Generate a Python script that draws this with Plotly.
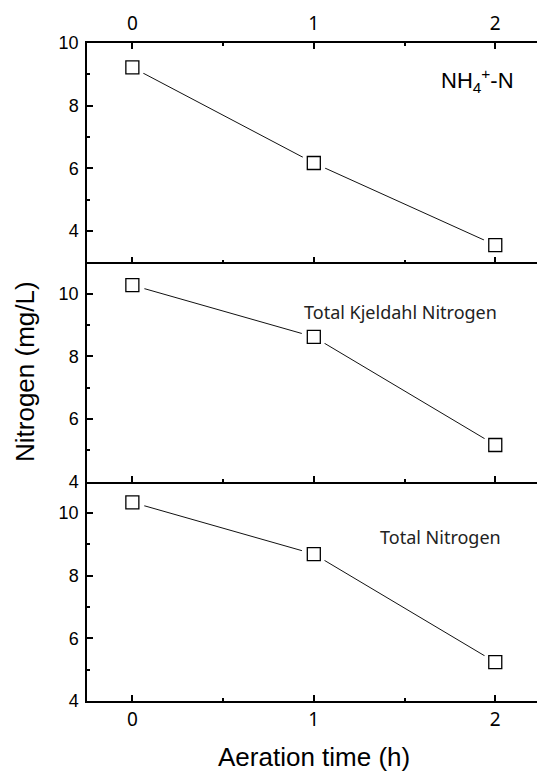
import plotly.graph_objects as go

# ---- data ----
aeration_time = [0, 1, 2]
nh4_n = [9.22, 6.17, 3.55]
tkn = [10.27, 8.62, 5.17]
total_n = [10.34, 8.69, 5.24]
x_tick_labels = ["0", "1", "2"]
panel_labels = ["NH<sub>4</sub><sup>+</sup>-N", "Total Kjeldahl Nitrogen", "Total Nitrogen"]
y_title = "Nitrogen (mg/L)"
x_title = "Aeration time (h)"

W, H = 537, 771
ML, MR, MT, MB = 87, 0, 43, 70

fig = go.Figure()
series = [nh4_n, tkn, total_n]
axes = [("x", "y"), ("x2", "y2"), ("x3", "y3")]
for vals, (xa, ya) in zip(series, axes):
    fig.add_trace(go.Scatter(x=aeration_time, y=vals, mode="lines",
                             line=dict(color="#111", width=1),
                             xaxis=xa, yaxis=ya, hoverinfo="skip", showlegend=False))
    # white halo creates the gap between line and marker
    fig.add_trace(go.Scatter(x=aeration_time, y=vals, mode="markers",
                             marker=dict(symbol="circle", size=25, color="white",
                                         line=dict(width=0)),
                             xaxis=xa, yaxis=ya, hoverinfo="skip", showlegend=False))
    fig.add_trace(go.Scatter(x=aeration_time, y=vals, mode="markers",
                             marker=dict(symbol="square", size=13, color="white",
                                         line=dict(width=1.3, color="black")),
                             xaxis=xa, yaxis=ya, showlegend=False))

xfont = dict(family="Noto Sans", size=19, color="black")
yfont = dict(family="Liberation Sans, Arial", size=18, color="black")

xcommon = dict(range=[-0.25, 2.23], tickvals=aeration_time, ticktext=x_tick_labels,
               ticks="inside", ticklen=6, tickwidth=1.5, tickcolor="black",
               showline=True, linewidth=1.5, linecolor="black",
               showgrid=False, zeroline=False, tickfont=xfont,
               minor=dict(ticks="inside", ticklen=3, tickwidth=1.5, tickcolor="black",
                          tickvals=[0.5, 1.5], showgrid=False))
ycommon = dict(ticks="inside", ticklen=6, tickwidth=1.5, tickcolor="black",
               showline=True, linewidth=1.5, linecolor="black",
               showgrid=False, zeroline=False, tickfont=yfont, ticklabelstandoff=3,
               tickvals=[4, 6, 8, 10], ticktext=["4", "6", "8", "10"],
               minor=dict(ticks="inside", ticklen=3, tickwidth=1.5, tickcolor="black",
                          tickvals=[5, 7, 9], showgrid=False))

fig.update_layout(
    width=W, height=H,
    margin=dict(l=ML, r=MR, t=MT, b=MB),
    paper_bgcolor="white", plot_bgcolor="white",
    xaxis=dict(xcommon, anchor="y", side="top", mirror="ticks", ticklabelstandoff=4),
    xaxis2=dict(xcommon, anchor="y2", side="bottom", showticklabels=False, matches="x"),
    xaxis3=dict(xcommon, anchor="y3", side="bottom", matches="x"),
    yaxis=dict(ycommon, domain=[2/3, 1], range=[3, 10], anchor="x"),
    yaxis2=dict(ycommon, domain=[1/3, 2/3], range=[4, 11], anchor="x2"),
    yaxis3=dict(ycommon, domain=[0, 1/3], range=[4, 11], anchor="x3"),
)

annos = [
    dict(text=panel_labels[0], x=1.90, y=8.79, xref="x", yref="y",
         font=dict(family="Liberation Sans, Arial", size=22, color="black")),
    dict(text=panel_labels[1], x=1.48, y=9.43, xref="x2", yref="y2",
         font=dict(family="Noto Sans", size=18, color="#222")),
    dict(text=panel_labels[2], x=1.70, y=9.23, xref="x3", yref="y3",
         font=dict(family="Noto Sans", size=18, color="#222")),
    dict(text=y_title, x=(25 - ML) / (W - ML - MR), y=0.5, xref="paper", yref="paper",
         textangle=-90, font=dict(family="Liberation Sans, Arial", size=26, color="black")),
    dict(text=x_title, x=(314 - ML) / (W - ML - MR), y=-(757 - (H - MB)) / (H - MT - MB),
         xref="paper", yref="paper",
         font=dict(family="Liberation Sans, Arial", size=26, color="black")),
]
for a in annos:
    a.update(showarrow=False, xanchor="center", yanchor="middle")
fig.update_layout(annotations=annos)

fig.write_html("out.html")
